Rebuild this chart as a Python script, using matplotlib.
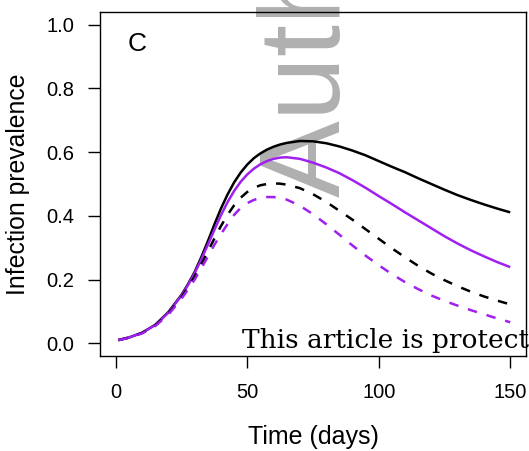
import matplotlib
matplotlib.use("Agg")
import matplotlib.pyplot as plt

plt.rcParams["font.family"] = ["Liberation Sans", "DejaVu Sans"]

# Simulated prevalence trajectories (fraction infected) over time in days
days = [1, 5, 10, 15, 20, 25, 27.5, 30, 32.5, 35, 37.5, 40, 42.5, 45, 47.5,
        50, 52.5, 55, 57.5, 60, 62.5, 65, 70, 75, 80, 85, 90, 95, 100, 105,
        110, 115, 120, 125, 130, 135, 140, 145, 150]

baseline_solid = [0.010, 0.018, 0.033, 0.058, 0.098, 0.152, 0.186, 0.224,
                  0.270, 0.320, 0.373, 0.423, 0.467, 0.505, 0.536, 0.561,
                  0.581, 0.596, 0.608, 0.617, 0.624, 0.629, 0.635, 0.634,
                  0.628, 0.618, 0.605, 0.590, 0.572, 0.554, 0.537, 0.518,
                  0.500, 0.482, 0.465, 0.450, 0.436, 0.423, 0.411]

treated_solid = [0.010, 0.018, 0.033, 0.057, 0.096, 0.150, 0.183, 0.220,
                 0.263, 0.309, 0.356, 0.402, 0.443, 0.478, 0.507, 0.530,
                 0.548, 0.562, 0.572, 0.579, 0.583, 0.584, 0.579, 0.567,
                 0.552, 0.534, 0.512, 0.488, 0.462, 0.437, 0.411, 0.386,
                 0.361, 0.336, 0.313, 0.292, 0.273, 0.255, 0.239]

baseline_dashed = [0.010, 0.018, 0.032, 0.056, 0.093, 0.145, 0.176, 0.210,
                   0.248, 0.288, 0.329, 0.368, 0.403, 0.433, 0.457, 0.475,
                   0.488, 0.496, 0.500, 0.502, 0.501, 0.498, 0.487, 0.468,
                   0.444, 0.416, 0.388, 0.358, 0.328, 0.298, 0.270, 0.243,
                   0.219, 0.198, 0.179, 0.162, 0.147, 0.134, 0.122]

treated_dashed = [0.010, 0.017, 0.031, 0.054, 0.090, 0.140, 0.169, 0.200,
                  0.235, 0.272, 0.309, 0.343, 0.374, 0.403, 0.425, 0.440,
                  0.450, 0.456, 0.459, 0.459, 0.456, 0.451, 0.432, 0.405,
                  0.374, 0.341, 0.307, 0.275, 0.245, 0.217, 0.192, 0.170,
                  0.150, 0.133, 0.118, 0.104, 0.091, 0.078, 0.066]

x_ticks = [0, 50, 100, 150]
y_ticks = [0.0, 0.2, 0.4, 0.6, 0.8, 1.0]
y_tick_labels = ["0.0", "0.2", "0.4", "0.6", "0.8", "1.0"]

PURPLE = "#A020F0"
LW = 1.8
DASH = (0, (3.8, 4.0))

fig = plt.figure(figsize=(5.29, 4.51), dpi=100)
ax = fig.add_axes([100 / 529, 1 - 356 / 451, 426 / 529, 344 / 451])

common = dict(lw=LW, solid_capstyle="butt", dash_capstyle="butt",
              solid_joinstyle="round", zorder=3)
ax.plot(days, baseline_solid, color="black", **common)
ax.plot(days, treated_solid, color=PURPLE, **common)
ax.plot(days, baseline_dashed, color="black", linestyle=DASH, **common)
ax.plot(days, treated_dashed, color=PURPLE, linestyle=DASH, **common)

ax.set_xlim(-6, 156)
ax.set_ylim(-0.04, 1.04)
ax.set_xticks(x_ticks)
ax.set_yticks(y_ticks)
ax.set_yticklabels(y_tick_labels)
ax.tick_params(axis="both", direction="out", length=8.6, width=1.0,
               labelsize=14.5, color="black")
ax.tick_params(axis="x", pad=10.5)
ax.tick_params(axis="y", pad=10)
for s in ax.spines.values():
    s.set_linewidth(1.0)
    s.set_color("black")

ax.set_xlabel("Time (days)", fontsize=18)
ax.xaxis.label.set_va("baseline")
ax.xaxis.set_label_coords(0.5, -0.2558)
ax.set_ylabel("Infection prevalence", fontsize=17.8)
ax.yaxis.label.set_va("baseline")
ax.yaxis.set_label_coords(-0.176, 0.5)

ax.text(137 / 529, 1 - 44 / 451, "C", transform=fig.transFigure,
        fontsize=19, ha="center", va="center")

# Repository watermarks
ax.text(340 / 529, 1 - 197 / 451, "Author Manuscript", transform=fig.transFigure,
        rotation=90, rotation_mode="anchor", ha="left", va="baseline",
        fontsize=83, color="#b0b0b0", clip_on=False, zorder=1)
ax.text(241.7 / 529, 1 - 348.3 / 451,
        "This article is protected by copyright. All rights reserved",
        transform=fig.transFigure, family=["DejaVu Serif"],
        fontsize=19, color="black", ha="left", va="baseline",
        clip_on=False, zorder=5)

fig.savefig("out.png", dpi=100)
